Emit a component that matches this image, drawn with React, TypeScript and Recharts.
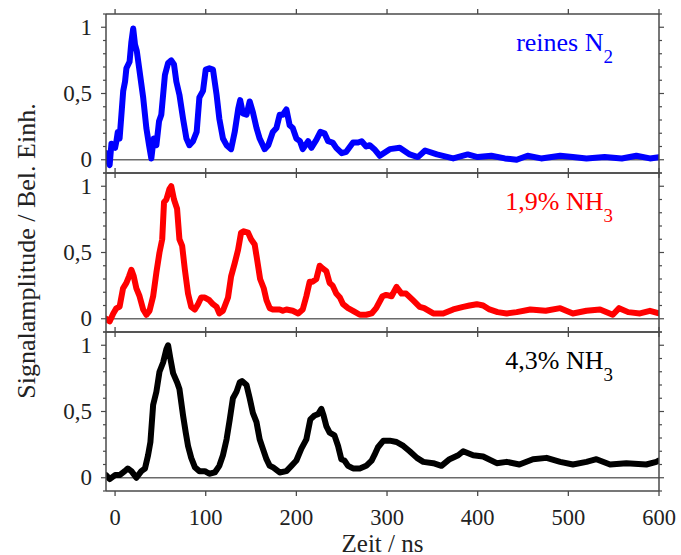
import React from 'react';
import { LineChart, Line, XAxis, YAxis, ReferenceLine } from 'recharts';

const FONT = '"Liberation Serif", "Times New Roman", Times, serif';
const AXIS_COLOR = '#4a4a4a';

// x axis (Zeit / ns)
const timeDomain: [number, number] = [-10, 600];
const timeTicks = [0, 100, 200, 300, 400, 500, 600];

// y axis (Signalamplitude / Bel. Einh.)
const signalDomain: [number, number] = [-0.1, 1.1];
const signalTicks = [-0.1, 0, 0.1, 0.2, 0.3, 0.4, 0.5, 0.6, 0.7, 0.8, 0.9, 1, 1.1];
const signalLabelTicks = [0, 0.5, 1];

const xTitle = 'Zeit / ns';
const yTitle = 'Signalamplitude / Bel. Einh.';

// [time in ns, normalised signal]
const n2Trace: [number, number][] = [
  [-10, 0.05], [-8, 0.0], [-6, -0.04], [-4, 0.12], [0, 0.09], [1.5, 0.14], [3, 0.21], [5, 0.16],
  [7, 0.34], [9, 0.52], [11, 0.59], [12.5, 0.69], [16, 0.74], [18, 0.89], [20, 0.99], [22, 0.87],
  [24, 0.82], [27, 0.67], [31, 0.47], [34.5, 0.24], [37.5, 0.11], [40, 0.01], [42.6, 0.16],
  [45.6, 0.11], [48.5, 0.29], [51, 0.34], [55, 0.64], [58.5, 0.73], [62, 0.75], [65, 0.72],
  [67.6, 0.59], [71, 0.49], [75, 0.31], [78.7, 0.16], [82, 0.11], [86, 0.14], [90, 0.21],
  [93, 0.47], [97, 0.52], [100, 0.68], [104, 0.69], [108, 0.68], [112, 0.49], [115, 0.31],
  [119, 0.16], [123, 0.11], [128, 0.08], [132, 0.21], [136, 0.39], [138, 0.45], [141, 0.35],
  [145, 0.34], [148.5, 0.44], [152, 0.36], [156, 0.24], [159.5, 0.16], [165, 0.08], [169, 0.11],
  [174, 0.21], [178, 0.24], [181.6, 0.34], [185, 0.34], [189, 0.38], [192.6, 0.26], [196, 0.24],
  [200, 0.16], [204, 0.14], [207, 0.08], [213, 0.14], [216.5, 0.09], [222, 0.15], [226.5, 0.21],
  [231, 0.2], [235, 0.14], [240, 0.13], [244, 0.09], [250, 0.05], [255, 0.06], [262.5, 0.13],
  [268, 0.13], [272, 0.14], [277, 0.1], [281, 0.11], [286, 0.08], [292, 0.03], [303, 0.08],
  [314, 0.09], [325, 0.04], [334, 0.02], [342, 0.07], [355, 0.04], [373, 0.01], [389, 0.04],
  [400, 0.02], [415, 0.03], [430, 0.01], [443, 0.0], [455, 0.03], [470, 0.01], [491, 0.03],
  [505, 0.02], [520, 0.01], [540, 0.02], [559, 0.01], [575, 0.03], [590, 0.01], [600, 0.02],
];

const nh3LowTrace: [number, number][] = [
  [-10, 0.0], [-6, -0.02], [-2, 0.04], [1.5, 0.08], [5, 0.09], [8.8, 0.23], [12.5, 0.27],
  [15.4, 0.32], [18, 0.37], [20.6, 0.32], [23.5, 0.23], [27, 0.17], [31, 0.07], [34.5, 0.03],
  [38, 0.06], [42, 0.17], [45.6, 0.35], [49, 0.5], [52, 0.6], [54, 0.88], [56.6, 0.9], [60, 0.98],
  [62, 1.0], [65, 0.9], [68.4, 0.83], [71, 0.6], [74, 0.55], [77, 0.37], [80.5, 0.19], [84, 0.09],
  [88, 0.07], [91.5, 0.11], [95, 0.16], [99, 0.16], [104, 0.14], [108, 0.11], [112, 0.09],
  [115, 0.04], [119, 0.06], [124.6, 0.16], [128, 0.32], [132, 0.42], [135.7, 0.52], [139, 0.65],
  [142, 0.66], [146.7, 0.65], [150, 0.6], [154, 0.56], [156.6, 0.45], [160, 0.3], [164, 0.23],
  [167, 0.14], [170.6, 0.08], [174, 0.07], [181.6, 0.07], [185, 0.06], [189, 0.07], [196, 0.06],
  [202, 0.04], [207, 0.07], [211, 0.17], [214.7, 0.28], [218, 0.28], [222, 0.3], [225.7, 0.4],
  [229, 0.38], [233, 0.36], [236.7, 0.27], [240, 0.25], [244, 0.19], [248, 0.16], [251.5, 0.11],
  [257, 0.08], [262.5, 0.06], [270, 0.03], [277, 0.03], [283, 0.04], [288, 0.08], [295, 0.17],
  [299, 0.18], [305, 0.17], [310.5, 0.24], [316, 0.19], [321, 0.19], [328.6, 0.14], [336, 0.09],
  [341, 0.08], [351, 0.04], [362, 0.04], [373, 0.07], [384, 0.09], [391, 0.1], [399, 0.11],
  [406, 0.1], [413, 0.07], [422, 0.05], [432, 0.04], [443, 0.05], [458, 0.07], [475, 0.06],
  [491, 0.08], [505, 0.04], [520, 0.06], [535, 0.07], [549, 0.03], [556, 0.08], [566, 0.05],
  [579, 0.04], [590, 0.06], [600, 0.04],
];

const nh3HighTrace: [number, number][] = [
  [-10, 0.02], [-6, -0.01], [0, 0.02], [5, 0.02], [10.7, 0.05], [14, 0.07], [18, 0.05],
  [23.5, 0.0], [29, 0.05], [33, 0.07], [36.4, 0.17], [39, 0.27], [42, 0.55], [45.6, 0.65],
  [49, 0.8], [53, 0.87], [56.6, 0.97], [58.5, 1.0], [61, 0.9], [64, 0.79], [68.4, 0.72],
  [71, 0.67], [75, 0.47], [78, 0.34], [80.5, 0.24], [84, 0.15], [88, 0.08], [93, 0.05],
  [99, 0.05], [104, 0.03], [110, 0.04], [115, 0.09], [119, 0.17], [123, 0.29], [126.5, 0.44],
  [130, 0.6], [134, 0.65], [137.5, 0.72], [140, 0.73], [145, 0.7], [148.5, 0.6], [152, 0.49],
  [156, 0.42], [159.5, 0.29], [163, 0.22], [167, 0.14], [170.6, 0.09], [174, 0.08], [181.6, 0.04],
  [189, 0.05], [194.5, 0.09], [200, 0.13], [205.5, 0.22], [211, 0.29], [215.4, 0.44], [220, 0.47],
  [224, 0.48], [227.6, 0.52], [230, 0.47], [233, 0.39], [236.7, 0.34], [242, 0.32], [246, 0.24],
  [249.6, 0.14], [253, 0.13], [257, 0.09], [262.5, 0.07], [270, 0.07], [277, 0.09], [283, 0.13],
  [286, 0.17], [290, 0.23], [296, 0.28], [303, 0.28], [310.5, 0.27], [318, 0.24], [325, 0.2],
  [333, 0.15], [340, 0.12], [351, 0.11], [360, 0.09], [369, 0.14], [378.5, 0.17], [384, 0.2],
  [395, 0.17], [406, 0.16], [421, 0.11], [432, 0.12], [446, 0.1], [461, 0.14], [476, 0.15],
  [491, 0.12], [505, 0.1], [520, 0.12], [531, 0.14], [546, 0.1], [564, 0.11], [586, 0.1],
  [597, 0.12], [600, 0.13],
];

const seriesNames = ['reines N', '1,9% NH', '4,3% NH'];
const seriesSubscripts = ['2', '3', '3'];
const seriesColors = ['#0000ff', '#ff0000', '#000000'];

const PLOT_LEFT = 106;
const PLOT_RIGHT_MARGIN = 22;
const PLOT_H = 159;
const PANEL_TOPS = [13.5, 172.5, 331.5];
const LABEL_BASELINES = [50.5, 209.5, 368.5];
const W = 681;
const AX = 1; // axis band size

const fmt = (v: number) => String(v).replace('.', ',');
const isLabel = (v: number) => signalLabelTicks.some((s) => Math.abs(s - v) < 1e-6);

const BottomTick = (props: any) => {
  const { x, y, payload, showLabel } = props;
  return (
    <g>
      <line x1={x} x2={x} y1={y} y2={y + 5} stroke={AXIS_COLOR} strokeWidth={1.3} />
      {showLabel && (
        <text x={x} y={y + 34} textAnchor="middle" fontFamily={FONT} fontSize={22.5} fill="#222">
          {fmt(payload.value)}
        </text>
      )}
    </g>
  );
};

const TopTick = (props: any) => {
  const { x, y } = props;
  return <line x1={x} x2={x} y1={y} y2={y - 5} stroke={AXIS_COLOR} strokeWidth={1.3} />;
};

const LeftTick = (props: any) => {
  const { x, y, payload } = props;
  const major = isLabel(payload.value);
  return (
    <g>
      <line x1={x - (major ? 5 : 3)} x2={x} y1={y} y2={y} stroke={AXIS_COLOR} strokeWidth={1.2} />
      {major && (
        <text x={x - 14} y={y + 7.5} textAnchor="end" fontFamily={FONT} fontSize={23} fill="#222">
          {fmt(payload.value)}
        </text>
      )}
    </g>
  );
};

const RightTick = (props: any) => {
  const { x, y, payload } = props;
  const major = isLabel(payload.value);
  return <line x1={x} x2={x + (major ? 5 : 3)} y1={y} y2={y} stroke={AXIS_COLOR} strokeWidth={1.2} />;
};

const Panel = ({ trace, color, top, showXLabels }: { trace: [number, number][]; color: string; top: number; showXLabels: boolean }) => {
  const rows = trace.map(([t, v]) => ({ t, v }));
  const mTop = 20;
  const mBottom = showXLabels ? 50 : 20;
  const height = PLOT_H + mTop + mBottom;
  const axisLine = { stroke: AXIS_COLOR, strokeWidth: 1.5 };
  return (
    <div style={{ position: 'absolute', left: 0, top: top - mTop, width: W, height }}>
      <LineChart
        width={W}
        height={height}
        data={rows}
        margin={{ top: mTop - AX, right: PLOT_RIGHT_MARGIN - AX, bottom: mBottom - AX, left: PLOT_LEFT - AX }}
      >
        <XAxis
          xAxisId="b"
          type="number"
          dataKey="t"
          domain={timeDomain}
          allowDataOverflow
          ticks={timeTicks}
          interval={0}
          orientation="bottom"
          height={AX}
          tickSize={0}
          tickMargin={0}
          tickLine={false}
          axisLine={axisLine}
          tick={(p: any) => <BottomTick {...p} showLabel={showXLabels} />}
        />
        <XAxis
          xAxisId="t"
          type="number"
          dataKey="t"
          domain={timeDomain}
          allowDataOverflow
          ticks={timeTicks}
          interval={0}
          orientation="top"
          height={AX}
          tickSize={0}
          tickMargin={0}
          tickLine={false}
          axisLine={axisLine}
          tick={(p: any) => <TopTick {...p} />}
        />
        <YAxis
          yAxisId="l"
          type="number"
          domain={signalDomain}
          allowDataOverflow
          ticks={signalTicks}
          interval={0}
          orientation="left"
          width={AX}
          tickSize={0}
          tickMargin={0}
          tickLine={false}
          axisLine={axisLine}
          tick={(p: any) => <LeftTick {...p} />}
        />
        <YAxis
          yAxisId="r"
          type="number"
          domain={signalDomain}
          allowDataOverflow
          ticks={signalTicks}
          interval={0}
          orientation="right"
          width={AX}
          tickSize={0}
          tickMargin={0}
          tickLine={false}
          axisLine={axisLine}
          tick={(p: any) => <RightTick {...p} />}
        />
        <ReferenceLine xAxisId="b" yAxisId="l" y={0} stroke="#6a6a6a" strokeWidth={1.5} />
        <Line
          xAxisId="b"
          yAxisId="l"
          type="linear"
          dataKey="v"
          stroke={color}
          strokeWidth={6}
          strokeLinejoin="round"
          strokeLinecap="round"
          dot={false}
          isAnimationActive={false}
        />
      </LineChart>
    </div>
  );
};

export default function App() {
  const traces = [n2Trace, nh3LowTrace, nh3HighTrace];
  const plotCenterX = (PLOT_LEFT + (W - PLOT_RIGHT_MARGIN)) / 2;
  return (
    <div style={{ position: 'absolute', left: 0, top: 0, width: W, height: 555, background: '#fff' }}>
      {traces.map((tr, i) => (
        <Panel key={i} trace={tr} color={seriesColors[i]} top={PANEL_TOPS[i]} showXLabels={i === 2} />
      ))}
      <svg
        width={W}
        height={555}
        style={{ position: 'absolute', left: 0, top: 0, pointerEvents: 'none' }}
      >
        {seriesNames.map((name, i) => (
          <text
            key={i}
            x={613}
            y={LABEL_BASELINES[i]}
            textAnchor="end"
            fontFamily={FONT}
            fontSize={26}
            fill={seriesColors[i]}
          >
            <tspan>{name}</tspan>
            <tspan dy={12} fontSize={19}>{seriesSubscripts[i]}</tspan>
          </text>
        ))}
        <text x={plotCenterX} y={551.5} textAnchor="middle" fontFamily={FONT} fontSize={25} fill="#222">
          {xTitle}
        </text>
        <text
          transform="translate(35,251) rotate(-90)"
          textAnchor="middle"
          fontFamily={FONT}
          fontSize={26}
          fill="#222"
        >
          {yTitle}
        </text>
      </svg>
    </div>
  );
}
